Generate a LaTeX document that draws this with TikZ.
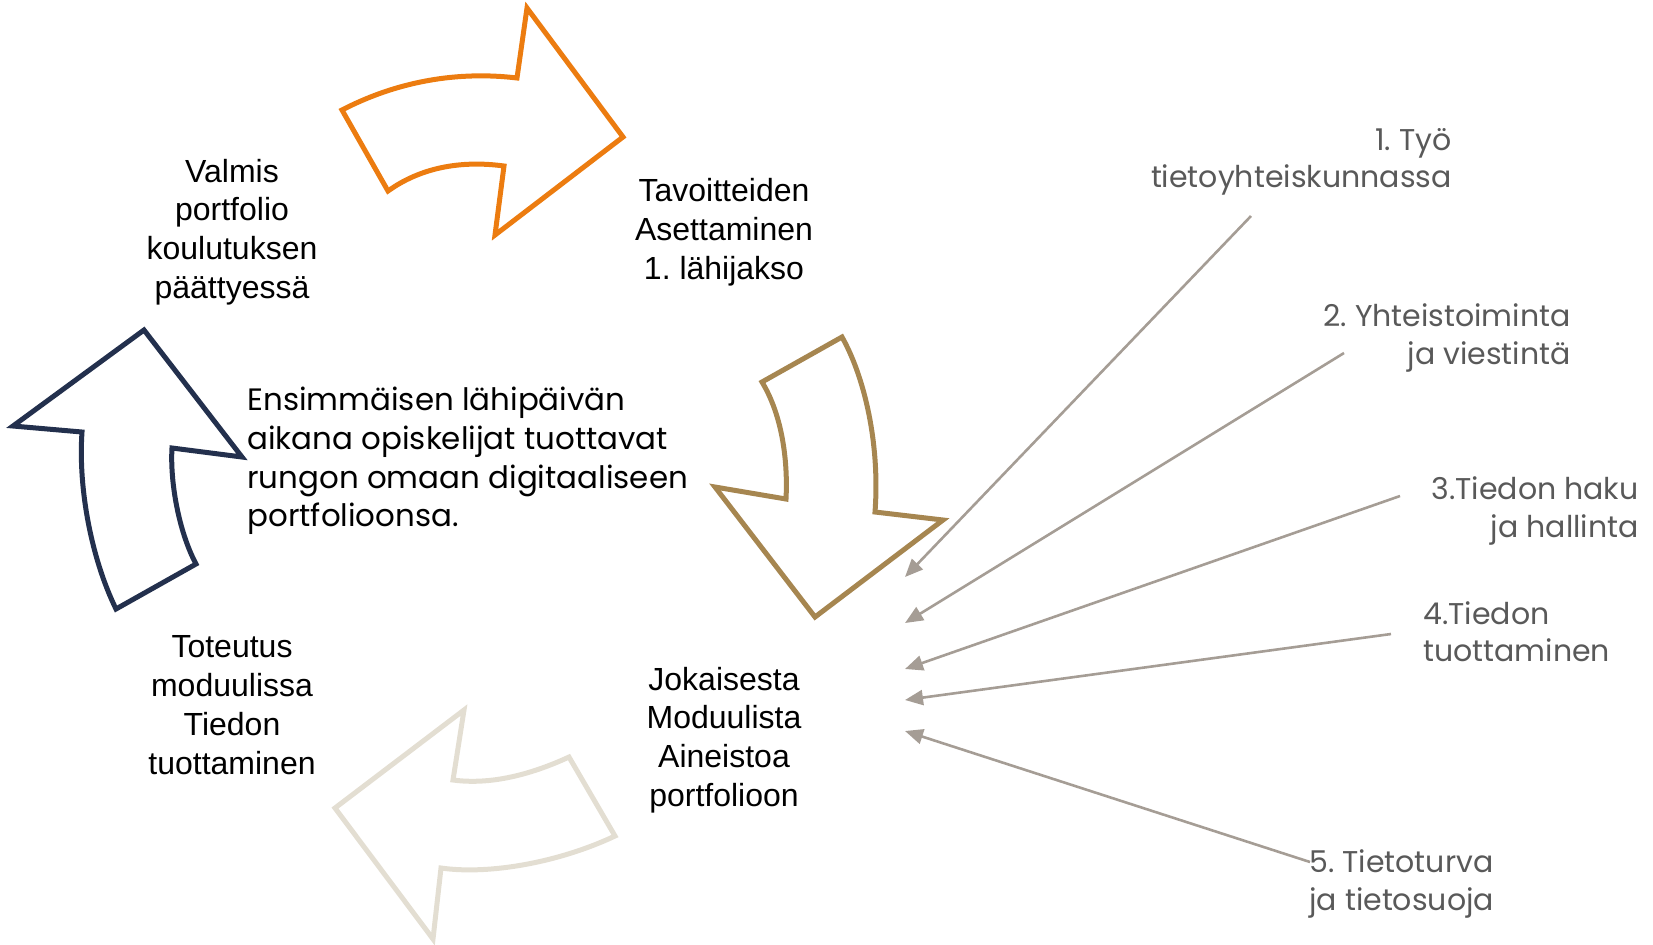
\documentclass[tikz,border=0pt]{standalone}
\usepackage{fontspec}
\setmainfont{Liberation Sans}
\newfontfamily\gothic{Poppins}
\usetikzlibrary{arrows.meta}
\frenchspacing

\definecolor{orangeArrow}{RGB}{236,124,16}
\definecolor{goldArrow}{RGB}{166,134,80}
\definecolor{sandArrow}{RGB}{227,222,210}
\definecolor{navyArrow}{RGB}{35,48,77}
\definecolor{feedLine}{RGB}{165,157,149}
\definecolor{feedText}{RGB}{89,89,89}

\tikzset{
  bigArrow/.style={line width=2.5pt, line join=miter},
  stepText/.style={inner sep=0pt, align=center, font=\fontsize{16}{19.4}\selectfont},
  topicText/.style={inner sep=0pt, text=feedText, font=\gothic\fontsize{15}{18.6}\selectfont},
  feed/.style={draw=feedLine, line width=1.3pt, -{Triangle[length=9pt,width=7.5pt]}}
}

\begin{document}
\begin{tikzpicture}[x=0.5pt,y=0.5pt,yscale=-1,xscale=1]
\useasboundingbox (0,0) rectangle (1653,944);

%Shape: Curved Arrow (orange, right)
\draw [bigArrow, color=orangeArrow] (342,110) .. controls (390,85) and (450,70) .. (517,78) -- (527,8) -- (623,137) -- (495,235) -- (504,166) .. controls (460,160) and (420,168) .. (388,191) -- cycle ;
%Shape: Curved Arrow (gold, down)
\draw [bigArrow, color=goldArrow] (762,382) -- (842,337) .. controls (865,378) and (880,445) .. (875,512) -- (943,520) -- (815,617) -- (715,487) -- (786,499) .. controls (788,460) and (782,415) .. (762,382) -- cycle ;
%Shape: Curved Arrow (sand, left)
\draw [bigArrow, color=sandArrow] (464,710) -- (335,808) -- (433,939) -- (441,868) .. controls (490,875) and (560,862) .. (615,836) -- (569,757) .. controls (530,775) and (490,785) .. (453,780) -- cycle ;
%Shape: Curved Arrow (navy, up)
\draw [bigArrow, color=navyArrow] (144,330) -- (242,457) -- (172,448) .. controls (170,480) and (178,530) .. (196,564) -- (116,609) .. controls (92,560) and (78,490) .. (82,432) -- (13,426) -- cycle ;

% Text Node
\draw (232,232) node [stepText] (valmis) {Valmis\\portfolio\\koulutuksen\\päättyessä};
% Text Node
\draw (724,232) node [stepText] (tavoite) {Tavoitteiden\\Asettaminen\\1. lähijakso};
% Text Node
\draw (232,705) node [stepText] (toteutus) {Toteutus\\moduulissa\\Tiedon\\tuottaminen};
% Text Node
\draw (724,740) node [stepText] (aineisto) {Jokaisesta\\Moduulista\\Aineistoa\\portfolioon};
% Text Node
\draw (247,461) node [anchor=west, inner sep=0pt, align=left, font=\gothic\fontsize{15.45}{19.4}\selectfont] (runko) {Ensimmäisen lähipäivän\\aikana opiskelijat tuottavat\\rungon omaan digitaaliseen\\portfolioonsa.};

% Text Node
\draw (1452,162) node [topicText, anchor=east, align=right] (tyo) {1. Työ\\tietoyhteiskunnassa};
% Text Node
\draw (1571,338) node [topicText, anchor=east, align=right] (yhteis) {2. Yhteistoiminta\\ja viestintä};
% Text Node
\draw (1639,511) node [topicText, anchor=east, align=right] (haku) {3.Tiedon haku\\ja hallinta};
% Text Node
\draw (1423,632) node [topicText, anchor=west, align=left] (tuotto) {4.Tiedon\\tuottaminen};
% Text Node
\draw (1309,884) node [topicText, anchor=west, align=left] (turva) {5. Tietoturva\\ja tietosuoja};

%Straight Lines
\coordinate (s1) at (1251,216) ; \coordinate (e1) at (905,577) ;
\coordinate (s2) at (1344,353) ; \coordinate (e2) at (905,623) ;
\coordinate (s3) at (1400,496) ; \coordinate (e3) at (905,669) ;
\coordinate (s4) at (1391,634) ; \coordinate (e4) at (905,700) ;
\coordinate (s5) at (1310,862) ; \coordinate (e5) at (905,731) ;
\foreach \i in {1,...,5}
  \draw [feed] (s\i) -- (e\i) ;

\end{tikzpicture}
\end{document}
